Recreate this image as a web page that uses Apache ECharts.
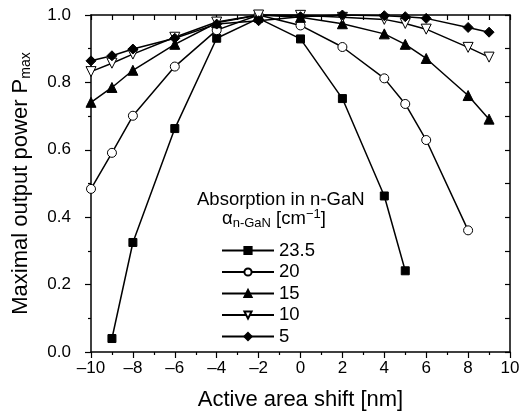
<!DOCTYPE html>
<html>
<head>
<meta charset="utf-8">
<title>Pmax vs active area shift</title>
<script src="https://cdn.jsdelivr.net/npm/echarts@6/dist/echarts.min.js"></script>
<style>
  html, body { margin: 0; padding: 0; background: #fff; }
  #chart { width: 519px; height: 413px; }
</style>
</head>
<body>
<div id="chart"></div>
<script>
// values
var xs235 = [-9, -8, -6, -4, -2, 0, 2, 4, 5];
var ys235 = [0.04, 0.325, 0.663, 0.931, 0.99, 0.929, 0.752, 0.463, 0.241];

var xs20 = [-10, -9, -8, -6, -4, -2, 0, 2, 4, 5, 6, 8];
var ys20 = [0.484, 0.591, 0.701, 0.847, 0.955, 1.0, 0.969, 0.905, 0.812, 0.736, 0.629, 0.361];

var xs15 = [-10, -9, -8, -6, -4, -2, 0, 2, 4, 5, 6, 8, 9];
var ys15 = [0.741, 0.785, 0.836, 0.913, 0.977, 1.0, 0.993, 0.974, 0.944, 0.913, 0.871, 0.761, 0.691];

var xs10 = [-10, -9, -8, -6, -4, -2, 0, 2, 4, 5, 6, 8, 9];
var ys10 = [0.832, 0.857, 0.884, 0.934, 0.979, 1.0, 0.999, 0.993, 0.987, 0.975, 0.958, 0.904, 0.875];

var xs5 = [-10, -9, -8, -6, -4, -2, 0, 2, 4, 5, 6, 8, 9];
var ys5 = [0.864, 0.879, 0.899, 0.931, 0.973, 0.983, 0.995, 1.0, 0.998, 0.995, 0.99, 0.963, 0.949];

var names = ['23.5', '20', '15', '10', '5'];

function pairs(xs, ys) {
  var out = [];
  for (var i = 0; i < xs.length; i++) out.push([xs[i], ys[i]]);
  return out;
}

var font = 'Liberation Sans, Arial, sans-serif';
var chart = echarts.init(document.getElementById('chart'), null, {renderer: 'canvas'});

function mkSeries(name, data, symbol, fill, size, rotate) {
  return {
    name: name,
    type: 'line',
    data: data,
    symbol: symbol,
    symbolSize: size,
    symbolRotate: rotate || 0,
    showAllSymbol: true,
    clip: false,
    lineStyle: {color: '#000', width: 1.5},
    itemStyle: {color: fill, borderColor: '#000', borderWidth: 1},
    emphasis: {disabled: true},
    animation: false
  };
}

chart.setOption({
  animation: false,
  textStyle: {fontFamily: font, color: '#000'},
  grid: {left: 91, right: 9, top: 15, bottom: 61, outerBoundsMode: 'none', containLabel: false},
  xAxis: [{
    type: 'value', min: -10, max: 10, interval: 2,
    axisLine: {onZero: false, lineStyle: {color: '#000', width: 1.5}},
    axisTick: {length: 6, lineStyle: {color: '#000', width: 1.2}},
    minorTick: {show: true, splitNumber: 2, length: 3, lineStyle: {color: '#000', width: 1.2}},
    splitLine: {show: false},
    axisLabel: {
      color: '#000', fontSize: 17, fontFamily: font, margin: 8,
      formatter: function (v) { return v < 0 ? '\u2013' + Math.abs(v) : String(v); }
    },
    name: 'Active area shift [nm]', nameLocation: 'middle', nameGap: 37,
    nameTextStyle: {fontSize: 22, fontFamily: font, color: '#000'}
  }, {
    type: 'value', min: -10, max: 10, interval: 1, position: 'top',
    axisLine: {onZero: false, lineStyle: {color: '#000', width: 1.5}},
    axisTick: {inside: true, length: 5, lineStyle: {color: '#000', width: 1.2}},
    axisLabel: {show: false}, splitLine: {show: false}
  }],
  yAxis: [{
    type: 'value', min: 0, max: 1, interval: 0.2,
    axisLine: {onZero: false, lineStyle: {color: '#000', width: 1.5}},
    axisTick: {length: 6, lineStyle: {color: '#000', width: 1.2}},
    minorTick: {show: true, splitNumber: 2, length: 3, lineStyle: {color: '#000', width: 1.2}},
    splitLine: {show: false},
    axisLabel: {
      color: '#000', fontSize: 17, fontFamily: font, margin: 20,
      formatter: function (v) { return v.toFixed(1); }
    },
    name: '{a|Maximal output power P}{s|max}', nameLocation: 'middle', nameGap: 58, nameRotate: 90,
    nameTextStyle: {
      fontFamily: font, color: '#000',
      rich: {
        a: {fontSize: 22, fontFamily: font, color: '#000', lineHeight: 25},
        s: {fontSize: 14, fontFamily: font, color: '#000', lineHeight: 14, verticalAlign: 'bottom'}
      }
    }
  }, {
    type: 'value', min: 0, max: 1, interval: 0.1, position: 'right',
    axisLine: {onZero: false, lineStyle: {color: '#000', width: 1.5}},
    axisTick: {inside: true, length: 5, lineStyle: {color: '#000', width: 1.2}},
    axisLabel: {show: false}, splitLine: {show: false}
  }],
  legend: {
    data: names,
    orient: 'vertical',
    left: 216, top: 235,
    itemWidth: 52, itemHeight: 9, itemGap: 0.5,
    textStyle: {fontSize: 18.5, lineHeight: 21, fontFamily: font, color: '#000'},
    selectedMode: false
  },
  graphic: [{
    type: 'text', left: 197, top: 190,
    style: {text: 'Absorption in n-GaN', fontSize: 18.5, fontFamily: font, fill: '#000'}
  }, {
    type: 'text', left: 222, top: 208,
    style: {
      text: '{g|\u03b1}{s|n-GaN}{g| [cm}{p|\u22121}{g|]}',
      fontFamily: font, fill: '#000',
      rich: {
        g: {fontSize: 18.5, fontFamily: font, fill: '#000', lineHeight: 22},
        s: {fontSize: 13, fontFamily: font, fill: '#000', lineHeight: 11, verticalAlign: 'bottom'},
        p: {fontSize: 13, fontFamily: font, fill: '#000', lineHeight: 13, verticalAlign: 'top'}
      }
    }
  }],
  series: [
    mkSeries(names[0], pairs(xs235, ys235), 'rect', '#000', 8),
    mkSeries(names[1], pairs(xs20, ys20), 'circle', '#fff', 9),
    mkSeries(names[2], pairs(xs15, ys15), 'triangle', '#000', 10),
    mkSeries(names[3], pairs(xs10, ys10), 'triangle', '#fff', 10, 180),
    mkSeries(names[4], pairs(xs5, ys5), 'diamond', '#000', 10)
  ]
});
</script>
</body>
</html>
